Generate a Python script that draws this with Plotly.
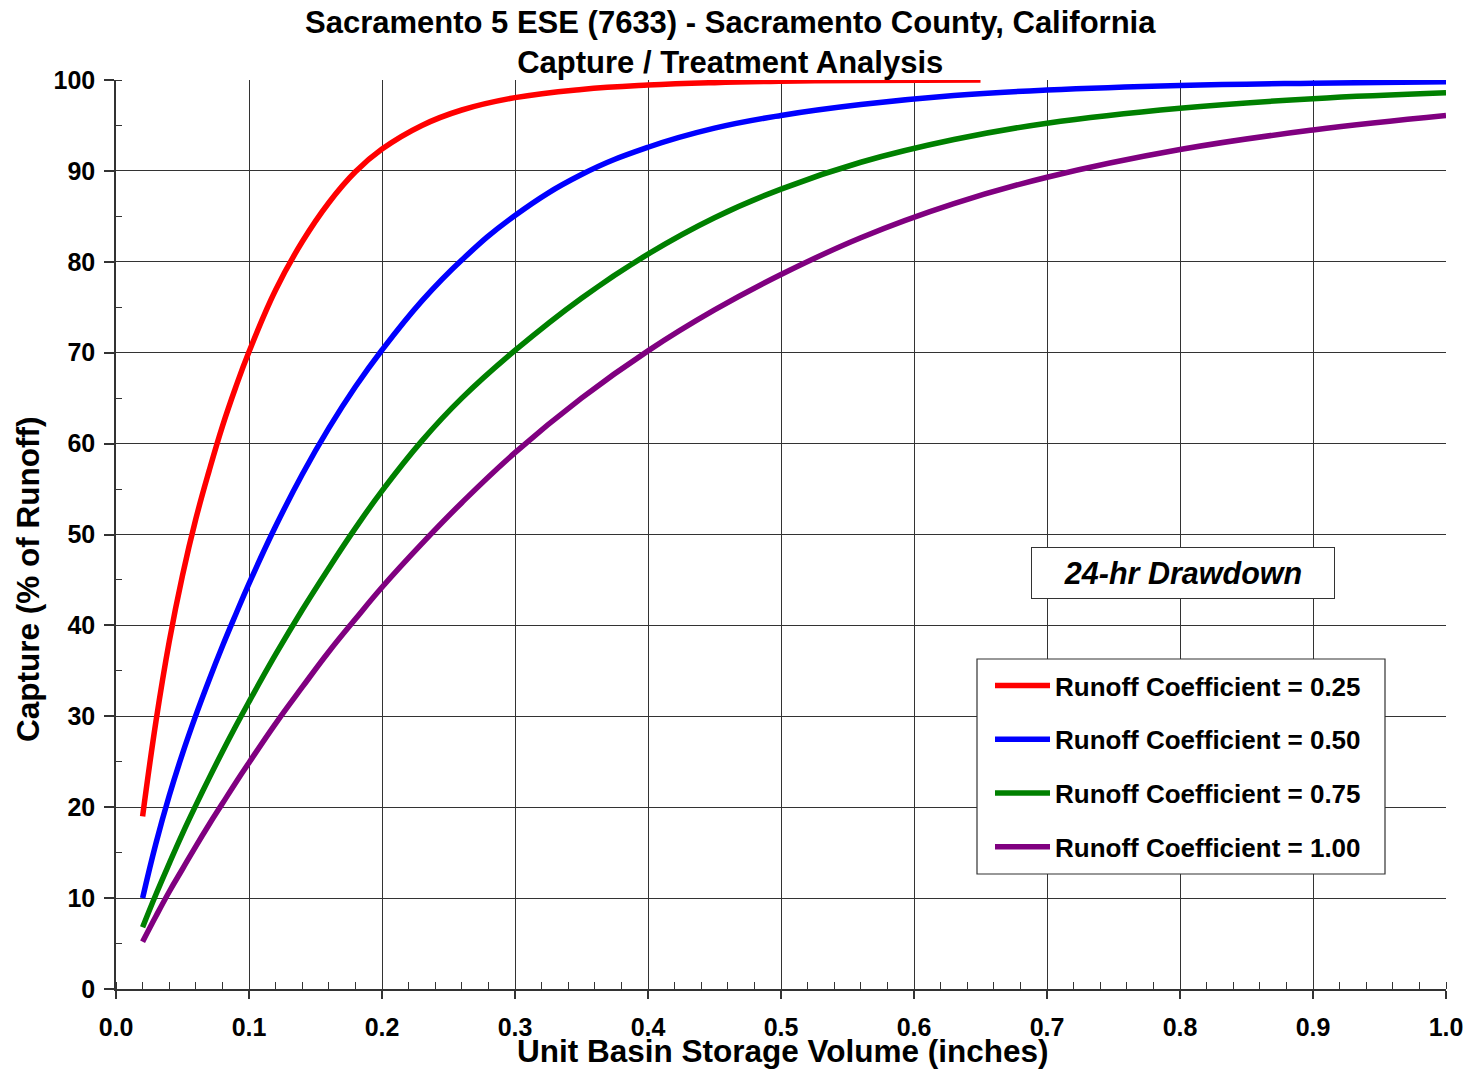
import plotly.graph_objects as go

# ---- data ----
x_red = [0.02, 0.03, 0.04, 0.05, 0.06, 0.07, 0.08, 0.09, 0.10, 0.12, 0.14, 0.16, 0.18, 0.20,
         0.23, 0.26, 0.30, 0.35, 0.40, 0.45, 0.50, 0.56, 0.65]
y_red = [19.0, 29.4, 38.2, 45.5, 51.7, 57.0, 61.9, 66.2, 70.1, 76.9, 82.2, 86.5, 89.9, 92.4,
         95.0, 96.7, 98.06, 98.96, 99.44, 99.71, 99.86, 99.95, 100.0]

x_all = [0.02, 0.03, 0.04, 0.05, 0.06, 0.07, 0.08, 0.09, 0.10, 0.12, 0.14, 0.16, 0.18, 0.20,
         0.23, 0.26, 0.30, 0.35, 0.40, 0.45, 0.50, 0.56, 0.63, 0.70, 0.80, 0.90, 1.00]
y_blue = [10.0, 16.0, 21.25, 25.9, 30.1, 34.0, 37.7, 41.2, 44.6, 50.9, 56.6, 61.7, 66.25, 70.3,
          75.7, 80.2, 85.1, 89.6, 92.6, 94.7, 96.1, 97.3, 98.3, 98.9, 99.4, 99.65, 99.8]
y_green = [6.8, 10.4, 13.8, 17.1, 20.2, 23.2, 26.1, 28.9, 31.6, 36.8, 41.7, 46.3, 50.7, 54.8,
           60.3, 65.0, 70.25, 76.0, 80.85, 84.85, 88.0, 90.95, 93.45, 95.25, 96.9, 97.95, 98.6]
y_purple = [5.2, 8.0, 10.7, 13.2, 15.7, 18.1, 20.4, 22.7, 24.9, 29.2, 33.2, 37.1, 40.7, 44.2,
            49.0, 53.5, 59.0, 65.0, 70.2, 74.7, 78.6, 82.65, 86.4, 89.3, 92.35, 94.5, 96.1]

names = ["Runoff Coefficient = 0.25", "Runoff Coefficient = 0.50",
         "Runoff Coefficient = 0.75", "Runoff Coefficient = 1.00"]
colors = ["#FF0000", "#0000FF", "#008000", "#800080"]

series = [(x_red, y_red), (x_all, y_blue), (x_all, y_green), (x_all, y_purple)]

FONT = "Liberation Sans, Arial, sans-serif"
GRID = "#333333"

fig = go.Figure()
for i, ((xs, ys), nm, c) in enumerate(zip(series, names, colors)):
    fig.add_trace(go.Scatter(
        x=xs, y=ys, mode="lines", name=nm, legendgroup=f"g{i}",
        line=dict(color=c, width=5.5, shape="spline", smoothing=1.2),
    ))

# pixel helpers for placing the decorations (plot area 116..1446 x 80..989)
def px(xp):
    return (xp - 116) / 1330

def py(yp):
    return (989 - yp) / 909

fig.update_layout(
    width=1474, height=1070,
    margin=dict(l=116, r=28, t=80, b=81),
    paper_bgcolor="white", plot_bgcolor="white",
    font=dict(family=FONT, color="black"),
    showlegend=True,
    legend=dict(
        x=px(990), y=py(662), xanchor="left", yanchor="top",
        bgcolor="rgba(0,0,0,0)", borderwidth=0,
        font=dict(family=FONT, size=26, color="black", weight="bold"),
        tracegroupgap=17, itemwidth=55,
    ),
    shapes=[
        dict(type="rect", xref="paper", yref="paper",
             x0=px(977), x1=px(1385), y0=py(874), y1=py(659),
             fillcolor="white", line=dict(color=GRID, width=1.2), layer="above"),
    ],
    xaxis=dict(
        range=[0, 1], dtick=0.1, tick0=0, tickformat=".1f",
        showgrid=True, gridcolor=GRID, gridwidth=1.2,
        showline=True, linecolor=GRID, linewidth=1.5,
        ticks="outside", ticklen=8, tickcolor=GRID, tickwidth=1.5,
        tickfont=dict(family=FONT, size=25, color="black", weight="bold"),
        ticklabelstandoff=7,
        minor=dict(ticks="inside", dtick=0.02, ticklen=7, tickcolor=GRID, tickwidth=1.2, showgrid=False),
        zeroline=False, fixedrange=True,
    ),
    yaxis=dict(
        range=[0, 100], dtick=10, tick0=0,
        showgrid=True, gridcolor=GRID, gridwidth=1.2,
        showline=True, linecolor=GRID, linewidth=1.5,
        ticks="outside", ticklen=10, tickcolor=GRID, tickwidth=1.5,
        tickfont=dict(family=FONT, size=25, color="black", weight="bold"),
        ticklabelstandoff=4,
        minor=dict(ticks="inside", dtick=5, ticklen=6, tickcolor=GRID, tickwidth=1.2, showgrid=False),
        zeroline=False, fixedrange=True,
    ),
    annotations=[
        dict(text="Sacramento 5 ESE (7633) - Sacramento County, California<br>Capture / Treatment Analysis",
             xref="paper", yref="paper", x=px(730), y=1 + (80 - 3) / 909,
             xanchor="center", yanchor="top", showarrow=False, align="center",
             font=dict(family=FONT, size=31, color="black", weight="bold")),
        dict(text="Unit Basin Storage Volume (inches)",
             xref="paper", yref="paper", x=px(783), y=py(1051),
             xanchor="center", yanchor="middle", showarrow=False,
             font=dict(family=FONT, size=31.5, color="black", weight="bold")),
        dict(text="Capture (% of Runoff)", textangle=-90,
             xref="paper", yref="paper", x=px(28), y=py(580),
             xanchor="center", yanchor="middle", showarrow=False,
             font=dict(family=FONT, size=31.5, color="black", weight="bold")),
        dict(text="<i>24-hr Drawdown</i>",
             xref="paper", yref="paper", x=px(1183), y=py(573),
             xanchor="center", yanchor="middle", showarrow=False,
             width=300, height=48, bgcolor="white", bordercolor=GRID, borderwidth=1,
             font=dict(family=FONT, size=30.5, color="black", weight="bold")),
    ],
)

fig.write_html("out.html")
